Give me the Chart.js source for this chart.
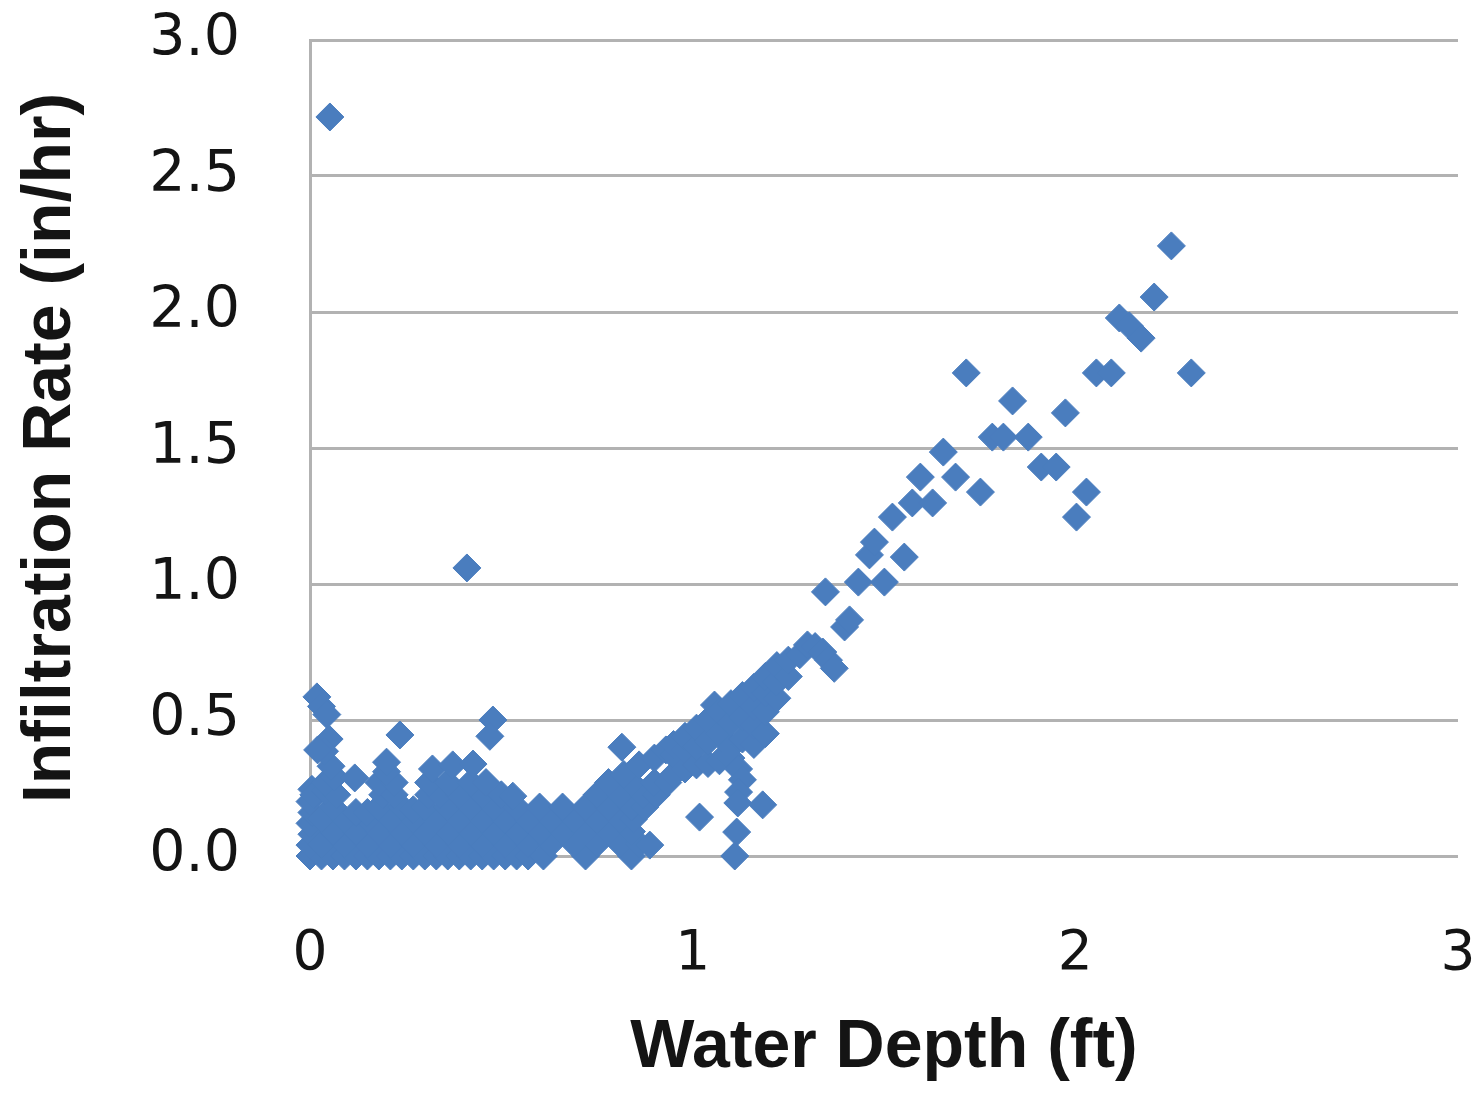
<!DOCTYPE html>
<html>
<head>
<meta charset="utf-8">
<script src="https://cdn.jsdelivr.net/npm/chart.js@4.4.1/dist/chart.umd.min.js"></script>
<style>
  html, body { margin: 0; padding: 0; background: #ffffff; }
  canvas { display: block; }
</style>
</head>
<body>
<canvas id="chart" width="1482" height="1093"></canvas>
<script>
// ---- Data (x = water depth ft, y = infiltration rate in/hr) ----
const xTickValues = [0, 1, 2, 3];
const yTickValues = [0, 0.5, 1.0, 1.5, 2.0, 2.5, 3.0];

// dense cloud at shallow depth
const nearSurface = [
  [0,0],[0.03,0],[0.06,0],[0.09,0],[0.12,0],[0.15,0],[0.18,0],[0.21,0],[0.24,0],[0.27,0],[0.30,0],[0.33,0],
  [0.36,0],[0.39,0],[0.42,0],[0.45,0],[0.48,0],[0.51,0],[0.54,0],[0.57,0],[0.61,0],[0.72,0],[0.84,0],
  [0,0.04],[0.005,0.08],[0,0.12],[0.005,0.16],[0,0.20],[0.005,0.245],
  [0.03,0.045],[0.09,0.045],[0.15,0.045],[0.21,0.045],[0.27,0.045],[0.33,0.045],[0.39,0.045],[0.45,0.045],
  [0.51,0.045],[0.57,0.045],[0.63,0.045],[0.69,0.045],[0.75,0.045],[0.81,0.045],[0.86,0.045],[0.888,0.04],
  [0.06,0.09],[0.12,0.09],[0.18,0.09],[0.24,0.09],[0.30,0.09],[0.36,0.09],[0.42,0.09],[0.48,0.09],
  [0.54,0.09],[0.60,0.09],[0.66,0.09],[0.72,0.09],[0.78,0.09],[0.84,0.09],
  [0.03,0.135],[0.09,0.135],[0.15,0.135],[0.21,0.135],[0.27,0.135],[0.33,0.135],[0.39,0.135],[0.45,0.135],
  [0.51,0.135],[0.57,0.135],[0.63,0.135],[0.69,0.135],[0.75,0.135],[0.81,0.135],[0.845,0.135],
  [0.06,0.18],[0.12,0.16],[0.15,0.16],[0.18,0.18],[0.24,0.18],[0.27,0.17],[0.30,0.18],[0.36,0.18],[0.42,0.18],
  [0.48,0.18],[0.54,0.18],[0.60,0.18],[0.66,0.18],[0.72,0.18],[0.78,0.18],[0.84,0.18],[0.875,0.18],
  [0.01,0.225],[0.04,0.24],[0.07,0.225],[0.19,0.225],[0.22,0.225],[0.31,0.225],[0.34,0.225],[0.39,0.225],
  [0.45,0.225],[0.50,0.225],[0.53,0.22],[0.75,0.225],[0.81,0.225],[0.87,0.225],[0.905,0.225],
  [0.04,0.27],[0.065,0.29],[0.18,0.27],[0.22,0.27],[0.31,0.27],[0.36,0.27],[0.42,0.27],[0.46,0.27],
  [0.78,0.27],[0.84,0.27],[0.90,0.27],[0.935,0.27],
  [0.055,0.33],[0.20,0.31],[0.20,0.345],[0.32,0.32],[0.373,0.335],[0.426,0.338],
  [0.82,0.30],[0.86,0.335],[0.90,0.36],[0.93,0.39],
  [0.018,0.585],[0.03,0.55],[0.044,0.52],[0.05,0.43],[0.038,0.385],[0.02,0.39],
  [0.117,0.287],[0.235,0.445],[0.478,0.50],[0.47,0.44],[0.815,0.40]
];

// rising band between ~1 and ~1.4 ft
const risingBand = [
  [0.95,0.30],[0.95,0.37],[0.95,0.41],
  [0.98,0.32],[0.98,0.39],[0.98,0.44],
  [1.01,0.335],[1.01,0.40],[1.01,0.47],
  [1.04,0.34],[1.04,0.42],[1.04,0.50],
  [1.057,0.555],
  [1.07,0.35],[1.07,0.45],[1.07,0.53],
  [1.10,0.40],[1.10,0.49],[1.10,0.56],
  [1.13,0.43],[1.13,0.51],[1.13,0.59],
  [1.16,0.41],[1.16,0.48],[1.16,0.55],[1.16,0.62],
  [1.19,0.45],[1.19,0.53],[1.19,0.60],[1.19,0.66],
  [1.22,0.58],[1.22,0.64],[1.22,0.70],
  [1.25,0.66],[1.25,0.72],
  [1.28,0.74],[1.30,0.776],[1.32,0.77],[1.34,0.75],[1.355,0.72],[1.37,0.69]
];

// strand dropping below the band near 1.1 ft
const dropStrand = [
  [1.10,0.36],[1.12,0.32],[1.13,0.28],[1.12,0.235],[1.118,0.195],[1.115,0.088],[1.11,0.0],
  [1.018,0.143],[1.183,0.188]
];

// scattered points at larger depth and outliers
const deepWater = [
  [0.052,2.717],[0.41,1.059],
  [1.347,0.971],[1.397,0.842],[1.41,0.868],
  [1.433,1.007],[1.501,1.007],[1.462,1.107],[1.475,1.154],[1.553,1.099],
  [1.522,1.246],[1.574,1.298],[1.627,1.298],[1.595,1.393],[1.687,1.393],[1.655,1.485],[1.752,1.338],
  [1.715,1.776],[1.783,1.540],[1.812,1.540],[1.877,1.540],[1.836,1.673],[1.911,1.430],[1.950,1.430],[1.974,1.629],
  [2.003,1.246],[2.029,1.338],[2.055,1.776],[2.094,1.776],[2.115,1.978],[2.141,1.949],[2.172,1.904],
  [2.206,2.055],[2.251,2.243],[2.303,1.776]
];

const allPoints = [...nearSurface, ...risingBand, ...dropStrand, ...deepWater].map(([x, y]) => ({ x, y }));

const markerColor = '#4a7dbe';
const gridColor = '#b2b2b2';
const textColor = '#141414';

function zeroPadding(s) {
  s.paddingTop = 0; s.paddingBottom = 0; s.paddingLeft = 0; s.paddingRight = 0;
}

new Chart(document.getElementById('chart'), {
  type: 'scatter',
  data: {
    datasets: [{
      data: allPoints,
      pointStyle: 'rectRot',
      pointRadius: 14,
      pointHoverRadius: 14,
      backgroundColor: markerColor,
      borderColor: markerColor,
      borderWidth: 1,
      clip: false
    }]
  },
  options: {
    responsive: false,
    animation: false,
    devicePixelRatio: 1,
    layout: { padding: { top: 40, right: 24, left: 0, bottom: 0 } },
    plugins: { legend: { display: false }, tooltip: { enabled: false } },
    scales: {
      x: {
        type: 'linear',
        min: 0, max: 3,
        afterBuildTicks: s => { s.ticks = xTickValues.map(v => ({ value: v })); },
        afterFit: s => { s.height = 237; zeroPadding(s); },
        grid: { display: false, drawTicks: false },
        border: { display: false },
        ticks: {
          padding: 66,
          color: textColor,
          font: { family: 'DejaVu Sans', size: 55 },
          callback: v => String(v)
        },
        title: {
          display: true,
          text: 'Water Depth (ft)',
          color: textColor,
          font: { family: 'Liberation Sans', size: 68, weight: 'bold' },
          padding: { top: 0, bottom: 4 }
        }
      },
      y: {
        type: 'linear',
        min: 0, max: 3,
        afterBuildTicks: s => { s.ticks = yTickValues.map(v => ({ value: v })); },
        afterFit: s => { s.width = 310; zeroPadding(s); },
        grid: { color: gridColor, lineWidth: 3, drawTicks: false },
        border: { display: true, color: gridColor, width: 3 },
        ticks: {
          padding: 70,
          color: textColor,
          font: { family: 'DejaVu Sans', size: 57 },
          callback: v => Number(v).toFixed(1)
        },
        title: {
          display: true,
          text: 'Infiltration Rate (in/hr)',
          color: textColor,
          font: { family: 'Liberation Sans', size: 68, weight: 'bold' },
          padding: { top: 10, bottom: 0 }
        }
      }
    }
  }
});
</script>
</body>
</html>
